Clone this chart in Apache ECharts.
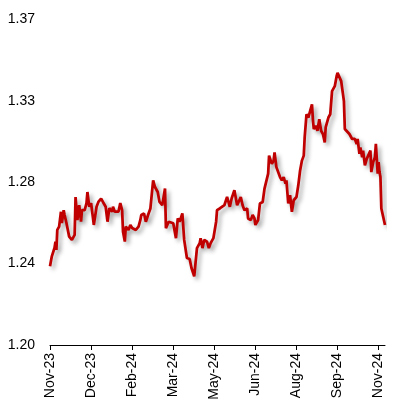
<!DOCTYPE html>
<html>
<head>
<meta charset="utf-8">
<script src="https://cdn.jsdelivr.net/npm/echarts@6/dist/echarts.min.js"></script>
<style>
  html, body { margin: 0; padding: 0; background: #fff; }
  #chart { width: 399px; height: 411px; }
</style>
</head>
<body>
<div id="chart"></div>
<script>
// x tick labels, one every 45 days starting at day 0
const xTickLabels = ['Nov-23', 'Dec-23', 'Feb-24', 'Mar-24', 'May-24', 'Jun-24', 'Aug-24', 'Sep-24', 'Nov-24']
const yTickLabels = ['1.20', '1.24', '1.28', '1.33', '1.37']

const days = [
  0, 2, 5, 6, 7, 8, 10, 12, 13, 15, 16, 18, 21, 24, 27, 28, 30, 32, 34, 35, 38, 40, 41, 43, 45, 46, 48,
  51, 53, 56, 58, 61, 63, 65, 68, 69, 71, 73, 75, 77, 79, 80, 82, 83, 86, 88, 90, 92, 94, 97, 99,
  100, 103, 105, 108, 110, 113, 115, 118, 120, 123, 126, 127, 130, 132, 135, 138, 140, 142, 145, 147,
  150, 153, 155, 158, 160, 161, 164, 165, 167, 169, 171, 172, 174, 176, 179, 182, 183, 186, 188, 191,
  194, 195, 197, 199, 202, 203, 205, 207, 209, 211, 213, 216, 217, 220, 222, 224, 225, 228, 230, 233,
  235, 237, 239, 240, 243, 245, 246, 248, 250, 252, 254, 256, 258, 259, 261, 263, 265, 267, 270, 272,
  274, 276, 278, 279, 281, 283, 285, 287, 288, 289, 291, 293, 295, 297, 299, 301, 302, 305, 307, 309,
  310, 312, 314, 315, 317, 319, 320, 321, 322, 323, 325, 328, 331, 332, 334, 336, 337, 339, 340, 342,
  343, 345, 347, 349, 351, 352, 354, 356, 357, 359, 360, 361, 362, 363, 365, 367
]

const values = [
  1.2411, 1.2463, 1.2508, 1.2540, 1.2497, 1.2601, 1.2618, 1.2696, 1.2637, 1.2704, 1.2679, 1.2637, 1.2566,
  1.2549, 1.2575, 1.2773, 1.2653, 1.2730, 1.2644, 1.2704, 1.2704, 1.2741, 1.2799, 1.2722, 1.2741, 1.2704,
  1.2627, 1.2722, 1.2747, 1.2765, 1.2747, 1.2722, 1.2644, 1.2715, 1.2696, 1.2722, 1.2696, 1.2704, 1.2696,
  1.2741, 1.2704, 1.2592, 1.2540, 1.2618, 1.2601, 1.2627, 1.2611, 1.2618, 1.2601, 1.2618, 1.2653, 1.2679,
  1.2687, 1.2644, 1.2687, 1.2713, 1.2860, 1.2825, 1.2799, 1.2747, 1.2730, 1.2817, 1.2610, 1.2644, 1.2653,
  1.2636, 1.2558, 1.2661, 1.2644, 1.2687, 1.2549, 1.2454, 1.2449, 1.2402, 1.2359, 1.2368, 1.2506, 1.2532,
  1.2558, 1.2506, 1.2549, 1.2558, 1.2540, 1.2506, 1.2532, 1.2558, 1.2644, 1.2704, 1.2713, 1.2713, 1.2730,
  1.2773, 1.2756, 1.2722, 1.2765, 1.2808, 1.2782, 1.2730, 1.2739, 1.2773, 1.2730, 1.2704, 1.2713, 1.2661,
  1.2653, 1.2679, 1.2661, 1.2627, 1.2653, 1.2739, 1.2747, 1.2817, 1.2808, 1.2895, 1.2989, 1.2946, 1.2963,
  1.3006, 1.2929, 1.2929, 1.2877, 1.2860, 1.2877, 1.2843, 1.2860, 1.2739, 1.2782, 1.2696, 1.2756, 1.2773,
  1.2834, 1.2912, 1.2963, 1.2989, 1.3084, 1.3205, 1.3188, 1.3197, 1.3257, 1.3179, 1.3128, 1.3145, 1.3119,
  1.3179, 1.3119, 1.3102, 1.3058, 1.3136, 1.3188, 1.3205, 1.3326, 1.3335, 1.3352, 1.3404, 1.3421, 1.3413,
  1.3378, 1.3369, 1.3369, 1.3274, 1.3128, 1.3119, 1.3102, 1.3076, 1.3067, 1.3076, 1.3050, 1.3076, 1.2998,
  1.3032, 1.2981, 1.3015, 1.2938, 1.2972, 1.2963, 1.3015, 1.2903, 1.2955, 1.2981, 1.3050, 1.2895, 1.2955,
  1.2903, 1.2877, 1.2713, 1.2670, 1.2627
]

const totalDays = 368
const labelEvery = 45

// one category per calendar day, gaps bridged with connectNulls
const categories = []
const seriesData = []
for (let i = 0; i < totalDays; i++) {
  categories.push(String(i))
  seriesData.push(null)
}
days.forEach((d, i) => { seriesData[d] = values[i] })

const font = 'Liberation Sans'

const chart = echarts.init(document.getElementById('chart'), null, { renderer: 'canvas' })
chart.setOption({
  animation: false,
  grid: { left: 50, right: 14, top: 19.5, bottom: 66, containLabel: false },
  xAxis: {
    type: 'category',
    data: categories,
    boundaryGap: false,
    axisLine: { lineStyle: { color: '#000', width: 1 } },
    axisTick: { interval: labelEvery - 1, length: 5, lineStyle: { color: '#000' } },
    axisLabel: {
      interval: labelEvery - 1,
      rotate: 90,
      margin: 8,
      color: '#000',
      fontFamily: font,
      fontSize: 14,
      formatter: (v, idx) => (idx % labelEvery === 0 ? xTickLabels[idx / labelEvery] : '')
    },
    splitLine: { show: false }
  },
  yAxis: {
    type: 'value',
    min: 1.20,
    max: 1.37,
    interval: 0.0425,
    axisLine: { show: false },
    axisTick: { show: false },
    splitLine: { show: false },
    axisLabel: {
      margin: 15,
      color: '#000',
      fontFamily: font,
      fontSize: 14,
      formatter: v => yTickLabels[Math.round((v - 1.20) / 0.0425)] || ''
    }
  },
  series: [{
    type: 'line',
    data: seriesData,
    connectNulls: true,
    symbol: 'none',
    lineStyle: {
      color: '#C00000',
      width: 2.75,
      shadowColor: 'rgba(0,0,0,0.35)',
      shadowBlur: 4,
      shadowOffsetX: 3,
      shadowOffsetY: 3
    }
  }]
})
</script>
</body>
</html>
